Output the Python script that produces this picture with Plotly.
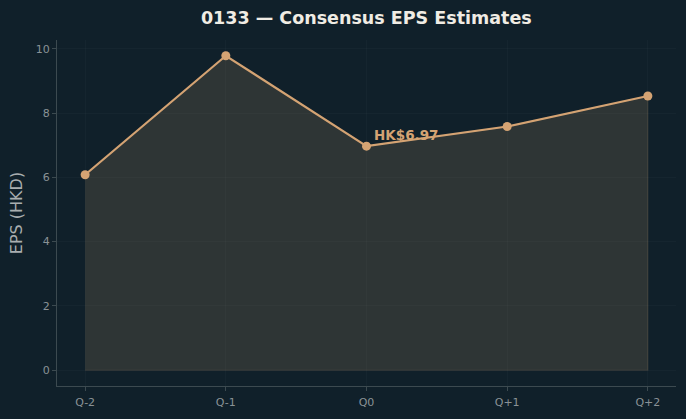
import plotly.graph_objects as go

quarters = ["Q-2", "Q-1", "Q0", "Q+1", "Q+2"]
eps = [6.08, 9.78, 6.97, 7.58, 8.53]
zeros = [0, 0, 0, 0, 0]
y_ticks = [0, 2, 4, 6, 8, 10]
label_text = "HK$6.97"
label_idx = 2

BG = "#10202a"
LINE = "#d4a373"

xs = list(range(len(quarters)))

fig = go.Figure()
fig.add_trace(go.Scatter(
    x=xs + xs[::-1], y=eps + zeros[::-1],
    fill="toself", fillcolor="rgba(212,163,115,0.155)",
    line=dict(color="rgba(212,163,115,0.14)", width=1.2),
    mode="lines", hoverinfo="skip", showlegend=False))
fig.add_trace(go.Scatter(
    x=xs, y=eps, mode="lines+markers",
    line=dict(color=LINE, width=2.2),
    marker=dict(color=LINE, size=9),
    showlegend=False))

fig.add_annotation(x=xs[label_idx], y=eps[label_idx], text="<b>" + label_text + "</b>",
                   showarrow=False, xanchor="left", yanchor="middle",
                   xshift=5, yshift=11,
                   font=dict(family="DejaVu Sans", size=13.5, color=LINE))

fig.update_layout(
    width=686, height=419,
    paper_bgcolor=BG, plot_bgcolor=BG,
    margin=dict(l=57, r=10, t=40, b=33),
    title=dict(text="<b>0133 — Consensus EPS Estimates</b>", x=0.534, xanchor="center",
               y=0.957, yanchor="middle",
               font=dict(family="DejaVu Sans", size=17.5, color="#f0ece4")),
    font=dict(family="DejaVu Sans"),
)
fig.update_xaxes(
    range=[-0.2, 4.2], tickvals=xs, ticktext=quarters,
    showgrid=True, gridcolor="rgba(255,255,255,0.022)", gridwidth=1,
    showline=True, linecolor="#3c4a50", linewidth=1,
    ticks="outside", ticklen=4, tickcolor="#3c4a50",
    ticklabelstandoff=2,
    tickfont=dict(size=11, color="#8a9296"), zeroline=False)
fig.update_yaxes(
    range=[-0.489, 10.27], tickvals=y_ticks,
    showgrid=True, gridcolor="rgba(255,255,255,0.022)", gridwidth=1,
    showline=True, linecolor="#3c4a50", linewidth=1,
    ticks="outside", ticklen=4, tickcolor="#3c4a50",
    tickfont=dict(size=11, color="#8a9296"), zeroline=False,
    title=dict(text="EPS (HKD)", font=dict(size=16, color="#a9aeb0"), standoff=9))

fig.write_html("out.html")
